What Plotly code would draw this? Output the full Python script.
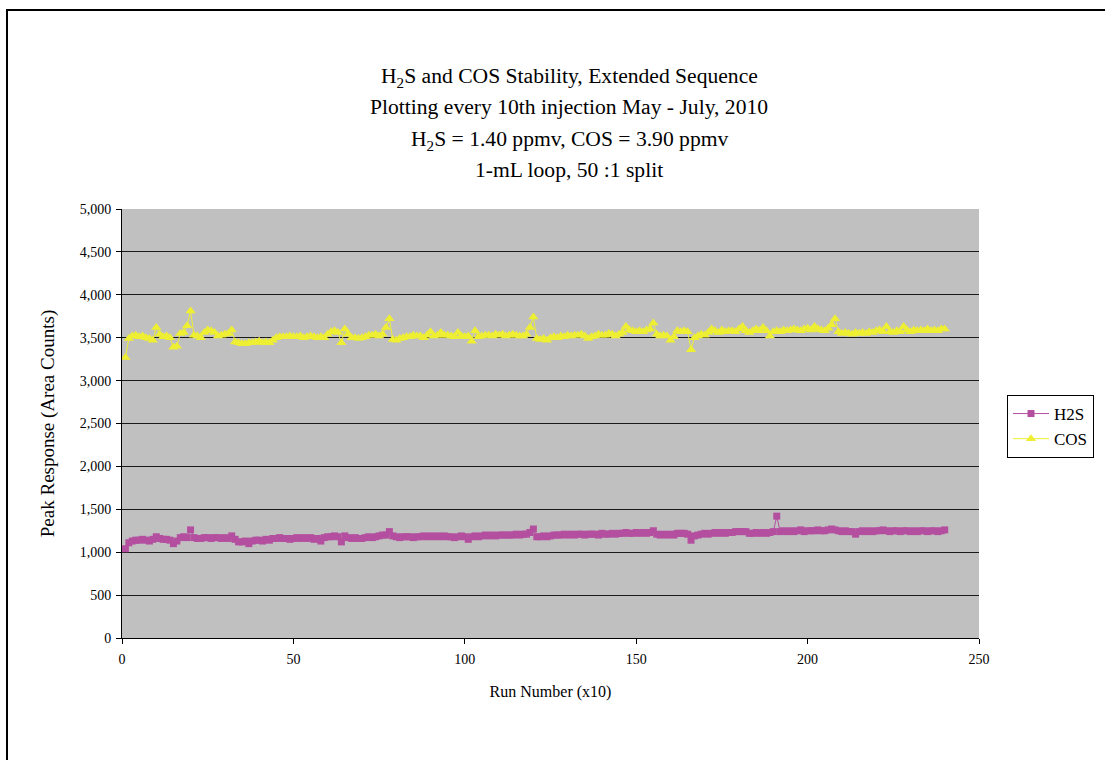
import plotly.graph_objects as go

run_number = list(range(1, 241))

h2s = [
    1040, 1110, 1130, 1140, 1140, 1150, 1140, 1130, 1150, 1180,
    1160, 1150, 1150, 1140, 1100, 1130, 1170, 1180, 1170, 1260,
    1170, 1160, 1160, 1170, 1170, 1160, 1170, 1170, 1160, 1170,
    1160, 1190, 1150, 1120, 1120, 1130, 1100, 1130, 1140, 1140,
    1130, 1150, 1140, 1160, 1160, 1170, 1160, 1160, 1150, 1160,
    1170, 1160, 1170, 1160, 1170, 1150, 1160, 1130, 1170, 1180,
    1180, 1190, 1180, 1120, 1190, 1170, 1160, 1170, 1160, 1160,
    1170, 1180, 1170, 1180, 1190, 1200, 1200, 1240, 1190, 1180,
    1170, 1180, 1180, 1180, 1170, 1180, 1180, 1190, 1180, 1190,
    1180, 1190, 1180, 1190, 1180, 1180, 1170, 1180, 1190, 1180,
    1150, 1180, 1190, 1180, 1190, 1200, 1190, 1200, 1190, 1200,
    1200, 1200, 1200, 1200, 1210, 1200, 1210, 1210, 1230, 1270,
    1180, 1180, 1190, 1180, 1190, 1200, 1200, 1200, 1210, 1200,
    1210, 1200, 1210, 1210, 1200, 1210, 1210, 1210, 1200, 1220,
    1210, 1210, 1220, 1210, 1220, 1220, 1230, 1220, 1220, 1230,
    1220, 1230, 1220, 1230, 1250, 1210, 1200, 1210, 1200, 1210,
    1200, 1220, 1220, 1220, 1210, 1140, 1190, 1200, 1210, 1220,
    1210, 1220, 1230, 1220, 1230, 1220, 1230, 1230, 1240, 1240,
    1240, 1240, 1220, 1220, 1230, 1220, 1230, 1220, 1230, 1240,
    1420, 1240, 1250, 1240, 1250, 1240, 1250, 1260, 1240, 1250,
    1250, 1250, 1260, 1250, 1250, 1260, 1270, 1260, 1250, 1240,
    1250, 1240, 1240, 1210, 1240, 1250, 1240, 1250, 1240, 1250,
    1250, 1260, 1250, 1240, 1250, 1250, 1240, 1250, 1250, 1240,
    1250, 1240, 1250, 1250, 1240, 1250, 1250, 1240, 1250, 1260,
]

cos = [
    3270, 3490, 3520, 3530, 3510, 3520, 3500, 3490, 3470, 3620,
    3540, 3510, 3520, 3500, 3390, 3400, 3550, 3560, 3640, 3810,
    3530, 3520, 3500, 3560, 3590, 3580, 3560, 3520, 3530, 3540,
    3550, 3590, 3450, 3440, 3430, 3430, 3440, 3440, 3450, 3460,
    3440, 3450, 3440, 3470, 3500, 3510, 3510, 3510, 3520, 3510,
    3510, 3520, 3500, 3510, 3520, 3510, 3500, 3510, 3500, 3540,
    3570, 3580, 3560, 3440, 3600, 3540, 3500, 3500, 3490, 3500,
    3510, 3530, 3530, 3540, 3520, 3540, 3620, 3720, 3480, 3470,
    3490, 3500, 3510, 3510, 3530, 3520, 3520, 3500, 3530, 3570,
    3520, 3530, 3560, 3530, 3530, 3520, 3510, 3560, 3520, 3510,
    3520, 3460, 3580, 3510, 3520, 3530, 3530, 3520, 3540, 3530,
    3540, 3520, 3530, 3540, 3530, 3520, 3520, 3540, 3620, 3740,
    3490, 3480, 3490, 3470, 3500, 3510, 3500, 3520, 3510, 3530,
    3520, 3530, 3530, 3540, 3520, 3490, 3510, 3520, 3540, 3530,
    3530, 3550, 3540, 3520, 3540, 3560, 3630, 3590, 3580, 3570,
    3580, 3570, 3590, 3600, 3670, 3540, 3520, 3530, 3520, 3470,
    3510, 3580, 3570, 3580, 3570, 3360, 3500, 3520, 3540, 3530,
    3560, 3600, 3580, 3560, 3590, 3570, 3580, 3580, 3570, 3600,
    3630, 3580, 3560, 3580, 3600, 3580, 3620, 3580, 3520, 3570,
    3580, 3570, 3590, 3580, 3590, 3600, 3590, 3580, 3600, 3610,
    3590, 3630, 3600, 3590, 3580, 3610, 3650, 3720, 3570, 3550,
    3560, 3550, 3540, 3560, 3550, 3560, 3550, 3570, 3560, 3580,
    3590, 3570, 3630, 3570, 3560, 3580, 3570, 3630, 3590, 3570,
    3590, 3580, 3590, 3580, 3600, 3580, 3590, 3580, 3600, 3600,
]

x_ticks = [0, 50, 100, 150, 200, 250]
y_ticks = [0, 500, 1000, 1500, 2000, 2500, 3000, 3500, 4000, 4500, 5000]

title_lines = [
    "H<sub>2</sub>S and COS Stability, Extended Sequence",
    "Plotting every 10th injection May - July, 2010",
    "H<sub>2</sub>S = 1.40 ppmv, COS = 3.90 ppmv",
    "1-mL loop, 50 :1 split",
]

SERIF = "Liberation Serif, Times New Roman, serif"

fig = go.Figure()
fig.add_trace(go.Scatter(
    x=run_number, y=h2s, name="H2S", mode="lines+markers",
    line=dict(color="#B44FA0", width=1),
    marker=dict(symbol="square", size=7, color="#B44FA0"),
))
fig.add_trace(go.Scatter(
    x=run_number, y=cos, name="COS", mode="lines+markers",
    line=dict(color="#EEEE33", width=1),
    marker=dict(symbol="triangle-up", size=9, color="#EEEE33"),
))

W, H = 1105, 760
L, R, T, B = 122, 126, 209, 122
pw, ph = W - L - R, H - T - B

def px2paper_x(px):
    return (px - L) / pw

def px2paper_y(py):
    return (H - B - py) / ph

title_y_px = [77, 107, 140, 170]
annotations = []
for txt, ypx in zip(title_lines, title_y_px):
    annotations.append(dict(
        text=txt, x=px2paper_x(569), y=px2paper_y(ypx), xref="paper", yref="paper",
        xanchor="center", yanchor="middle", showarrow=False,
        font=dict(family=SERIF, size=21.6, color="#000000"),
    ))

fig.update_layout(
    width=W, height=H,
    margin=dict(l=L, r=R, t=T, b=B, autoexpand=False),
    paper_bgcolor="#FFFFFF",
    plot_bgcolor="#C0C0C0",
    font=dict(family=SERIF, size=14, color="#000000"),
    annotations=annotations,
    showlegend=True,
    legend=dict(
        x=px2paper_x(1007), y=px2paper_y(395), xanchor="left", yanchor="top",
        bgcolor="#FFFFFF", bordercolor="#000000", borderwidth=1,
        font=dict(family=SERIF, size=17, color="#000000"),
        itemwidth=36, tracegroupgap=0,
    ),
    xaxis=dict(
        range=[0, 250], tickvals=x_ticks, showgrid=False, zeroline=False,
        showline=True, linecolor="#000000", linewidth=1,
        ticks="outside", ticklen=5, tickcolor="#000000",
        tickfont=dict(family=SERIF, size=14), ticklabelstandoff=3,
        title=dict(text="Run Number (x10)", font=dict(family=SERIF, size=16), standoff=20),
    ),
    yaxis=dict(
        range=[0, 5000], tickvals=y_ticks, tickformat=",",
        showgrid=True, gridcolor="#1a1a1a", gridwidth=1, zeroline=False,
        showline=True, linecolor="#000000", linewidth=1,
        ticks="outside", ticklen=5, tickcolor="#000000",
        tickfont=dict(family=SERIF, size=14), ticklabelstandoff=2,
        title=dict(text="Peak Response (Area Counts)", font=dict(family=SERIF, size=19), standoff=20),
    ),
    shapes=[dict(
        type="rect", xref="paper", yref="paper",
        x0=px2paper_x(7), x1=px2paper_x(1200), y0=px2paper_y(900), y1=px2paper_y(10),
        line=dict(color="#000000", width=2), fillcolor="rgba(0,0,0,0)", layer="below",
    )],
)

fig.write_html("out.html", config={"displayModeBar": False},
               post_script="document.body.style.margin='0px';")
